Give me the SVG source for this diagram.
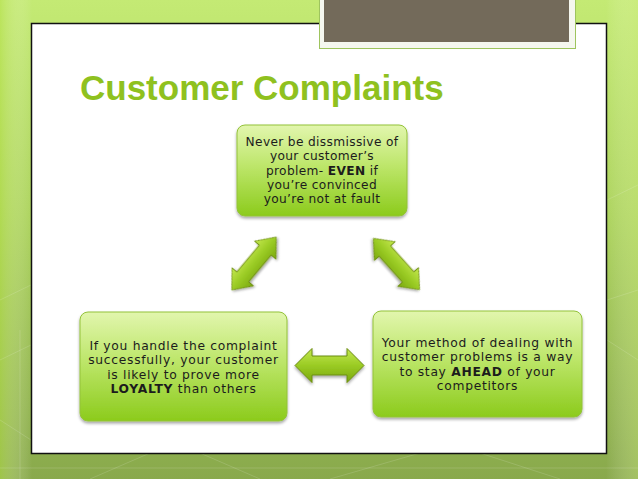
<svg xmlns="http://www.w3.org/2000/svg" width="638" height="479" viewBox="0 0 638 479">
<defs>
<linearGradient id="bg" x1="0" y1="0" x2="0" y2="1">
<stop offset="0" stop-color="#c4ea74"/>
<stop offset="0.45" stop-color="#acd35c"/>
<stop offset="1" stop-color="#89a94c"/>
</linearGradient>
<linearGradient id="bgside" x1="0" y1="0" x2="1" y2="0">
<stop offset="0" stop-color="#b4e046" stop-opacity="0.5"/>
<stop offset="0.05" stop-color="#ffffff" stop-opacity="0"/>
<stop offset="0.95" stop-color="#ffffff" stop-opacity="0"/>
<stop offset="1" stop-color="#d6f08a" stop-opacity="0.35"/>
</linearGradient>
<linearGradient id="box" x1="0" y1="0" x2="0" y2="1">
<stop offset="0" stop-color="#e2f6ae"/>
<stop offset="0.45" stop-color="#bde66a"/>
<stop offset="1" stop-color="#8ccb1c"/>
</linearGradient>
<linearGradient id="arr" x1="0" y1="0" x2="0" y2="1">
<stop offset="0" stop-color="#c4e84e"/>
<stop offset="0.5" stop-color="#9acb24"/>
<stop offset="1" stop-color="#7aa80e"/>
</linearGradient>
<filter id="sh" x="-10%" y="-10%" width="125%" height="130%">
<feGaussianBlur in="SourceAlpha" stdDeviation="1.5"/>
<feOffset dx="0" dy="2" result="b"/>
<feComponentTransfer><feFuncA type="linear" slope="0.35"/></feComponentTransfer>
<feMerge><feMergeNode/><feMergeNode in="SourceGraphic"/></feMerge>
</filter>
<path id="dbl" d="M-34.5,0 L-17.5,-17 L-17.5,-9.5 L17.5,-9.5 L17.5,-17 L34.5,0 L17.5,17 L17.5,9.5 L-17.5,9.5 L-17.5,17 Z"/>
</defs>
<style>
.box{fill:url(#box);stroke:#93c23a;stroke-width:1}
.t{font-family:"DejaVu Sans","Liberation Sans",sans-serif;fill:#1c1c1c;text-anchor:middle}
.t13{font-size:12.2px;letter-spacing:0.35px}
.t14{font-size:12.3px;letter-spacing:0.7px}
.b{font-weight:bold}
.arrow{fill:url(#arr);stroke:#6b8c0e;stroke-width:1;stroke-linejoin:round}
.bgl{stroke:#ffffff;stroke-opacity:0.14;stroke-width:1;fill:none}
</style>
<rect x="0" y="0" width="638" height="479" fill="url(#bg)"/>
<rect x="0" y="0" width="638" height="479" fill="url(#bgside)"/>
<g class="bgl">
<line x1="0" y1="300" x2="31" y2="285"/>
<line x1="0" y1="360" x2="31" y2="345"/>
<line x1="0" y1="420" x2="31" y2="440"/>
<line x1="20" y1="330" x2="20" y2="479"/>
<line x1="607" y1="200" x2="638" y2="185"/>
<line x1="607" y1="300" x2="638" y2="290"/>
<line x1="607" y1="340" x2="638" y2="360"/>
<line x1="90" y1="479" x2="150" y2="453"/>
<line x1="200" y1="453" x2="260" y2="479"/>
<line x1="330" y1="479" x2="420" y2="453"/>
<line x1="480" y1="453" x2="560" y2="479"/>
<line x1="0" y1="468" x2="638" y2="468"/>
</g>
<rect x="31.5" y="23.5" width="575" height="430" fill="#ffffff" stroke="#111111" stroke-width="1.5"/>
<rect x="319.5" y="-5" width="256" height="53.5" fill="#f5f7ef" stroke="#9ec45e" stroke-width="1"/>
<rect x="324" y="-5" width="245" height="47" fill="#736a5a"/>
<text x="80" y="100" font-family="Liberation Sans, Arial, sans-serif" font-size="35" font-weight="bold" fill="#8fc11f">Customer Complaints</text>

<g id="connectors">
<use href="#dbl" class="arrow" filter="url(#sh)" transform="translate(254,263.5) rotate(-50) scale(1,0.82)"/>
<use href="#dbl" class="arrow" filter="url(#sh)" transform="translate(396.5,264) rotate(48) scale(1,0.82)"/>
<use href="#dbl" class="arrow" filter="url(#sh)" transform="translate(329.5,365.5)"/>
</g>

<g id="node-top">
<rect class="box" x="237" y="125" width="170" height="91" rx="8" filter="url(#sh)"/>
<text class="t t13" x="322"><tspan x="322" y="146">Never be dissmissive of</tspan><tspan x="322" y="160.3">your customer’s</tspan><tspan x="322" y="174.6">problem- <tspan class="b">EVEN</tspan> if</tspan><tspan x="322" y="189">you’re convinced</tspan><tspan x="322" y="203">you’re not at fault</tspan></text>
</g>

<g id="node-left">
<rect class="box" x="80" y="312" width="207" height="109" rx="8" filter="url(#sh)"/>
<text class="t t14" x="183.5"><tspan x="183.5" y="350">If you handle the complaint</tspan><tspan x="183.5" y="364.3">successfully, your customer</tspan><tspan x="183.5" y="378.6">is likely to prove more</tspan><tspan x="183.5" y="393"><tspan class="b">LOYALTY</tspan> than others</tspan></text>
</g>

<g id="node-right">
<rect class="box" x="373" y="311" width="209" height="106" rx="8" filter="url(#sh)"/>
<text class="t t14" x="477.5"><tspan x="477.5" y="347">Your method of dealing with</tspan><tspan x="477.5" y="361.3">customer problems is a way</tspan><tspan x="477.5" y="375.6">to stay <tspan class="b">AHEAD</tspan> of your</tspan><tspan x="477.5" y="390">competitors</tspan></text>
</g>
</svg>
